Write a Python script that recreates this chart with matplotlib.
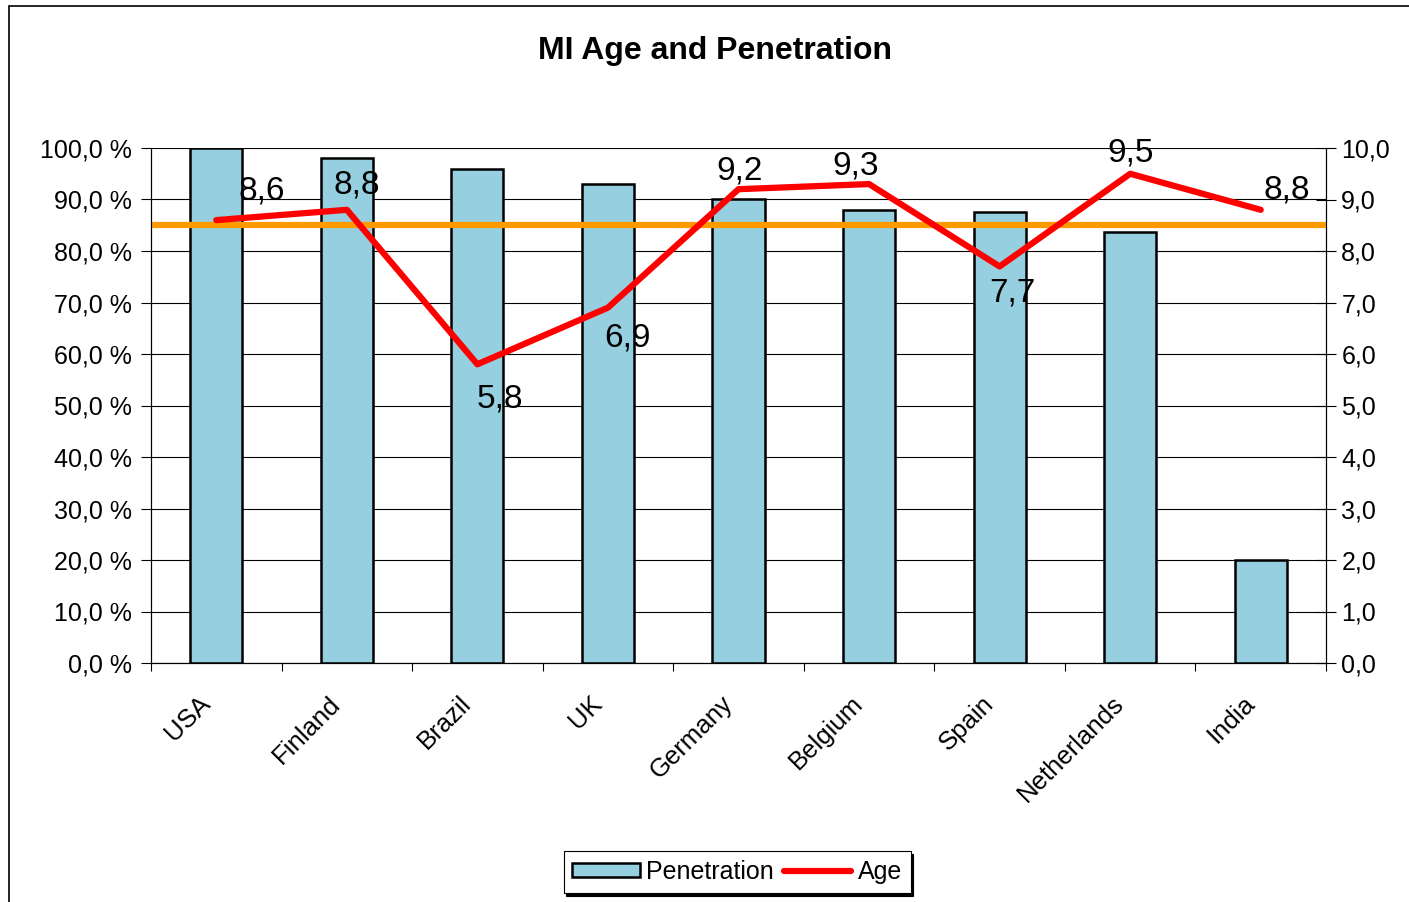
import numpy as np
import matplotlib.pyplot as plt
from matplotlib.patches import Rectangle

plt.rcParams['font.family'] = ['Liberation Sans', 'DejaVu Sans']

countries = ['USA', 'Finland', 'Brazil', 'UK', 'Germany', 'Belgium', 'Spain', 'Netherlands', 'India']
penetration = [100.0, 98.0, 96.0, 93.0, 90.0, 88.0, 87.5, 83.7, 20.0]
age = [8.6, 8.8, 5.8, 6.9, 9.2, 9.3, 7.7, 9.5, 8.8]
age_labels = ['8,6', '8,8', '5,8', '6,9', '9,2', '9,3', '7,7', '9,5', '8,8']
avg_penetration = 85.0

# label offsets in points (dx, dy) relative to each age point
label_offsets = [(33, 21), (7, 18), (16, -25), (14, -22), (1, 13), (-10, 13), (9, -19), (0, 15), (19, 14)]

fig = plt.figure(figsize=(14.09, 9.02), dpi=100)
fig.patches.append(Rectangle((9 / 1409, -0.1), 1.2, 1 - 6 / 902 + 0.1, transform=fig.transFigure,
                             fill=False, edgecolor='black', linewidth=1.2))

ax = fig.add_axes([151 / 1409, 1 - 663 / 902, (1326 - 151) / 1409, (663 - 148) / 902])
x = np.arange(len(countries))

ax.bar(x, penetration, width=0.4, color='#96D0E0', edgecolor='black', linewidth=1.8,
       label='Penetration', zorder=3)
ax.axhline(avg_penetration, color='#FF9900', linewidth=4.5, zorder=4)

ax.set_xlim(-0.5, len(countries) - 0.5)
ax.set_ylim(0, 100)
ax.set_yticks(np.arange(0, 101, 10))
ax.set_yticklabels([f'{v:.1f} %'.replace('.', ',') for v in np.arange(0, 101, 10)], fontsize=18)
ax.yaxis.grid(True, color='black', linewidth=0.8, zorder=0)
ax.set_axisbelow(True)
ax.set_xticks(np.arange(-0.5, len(countries), 1))
ax.set_xticklabels([])
ax.tick_params(axis='x', length=6, width=0.8)
ax.tick_params(axis='y', length=7, width=0.8, pad=7)
ax.spines['top'].set_visible(False)
for i, c in enumerate(countries):
    ax.text(i - 0.14, -0.055, c, transform=ax.get_xaxis_transform(), rotation=45,
            ha='right', va='top', rotation_mode='anchor', fontsize=18.5)

ax2 = ax.twinx()
ax2.plot(x, age, color='#FF0000', linewidth=4.5, label='Age', zorder=5, solid_capstyle='round')
ax2.set_ylim(0, 10)
ax2.set_yticks(np.arange(0, 11, 1))
ax2.set_yticklabels([f'{v:.1f}'.replace('.', ',') for v in np.arange(0, 11, 1)], fontsize=18)
ax2.tick_params(axis='y', direction='inout', length=14, width=0.8, pad=4)
ax2.spines['top'].set_visible(False)
for xi, yi, lab, off in zip(x, age, age_labels, label_offsets):
    ax2.annotate(lab, (xi, yi), xytext=off, textcoords='offset points',
                 ha='center', va='center', fontsize=24)

fig.text(715 / 1409, 1 - 51 / 902, 'MI Age and Penetration', ha='center', va='center',
         fontsize=23, fontweight='bold')

h1, l1 = ax.get_legend_handles_labels()
h2, l2 = ax2.get_legend_handles_labels()
leg = fig.legend(h1 + h2, l1 + l2, loc='center', bbox_to_anchor=(737 / 1409, 1 - 872 / 902),
                 ncol=2, fontsize=18, frameon=True, fancybox=False, shadow={'color': 'black', 'alpha': 1},
                 edgecolor='black', handlelength=2.7, handleheight=0.5, columnspacing=0.4,
                 handletextpad=0.25, borderpad=0.35, borderaxespad=0)
leg.get_frame().set_linewidth(0.8)

fig.savefig('out.png', dpi=100)
